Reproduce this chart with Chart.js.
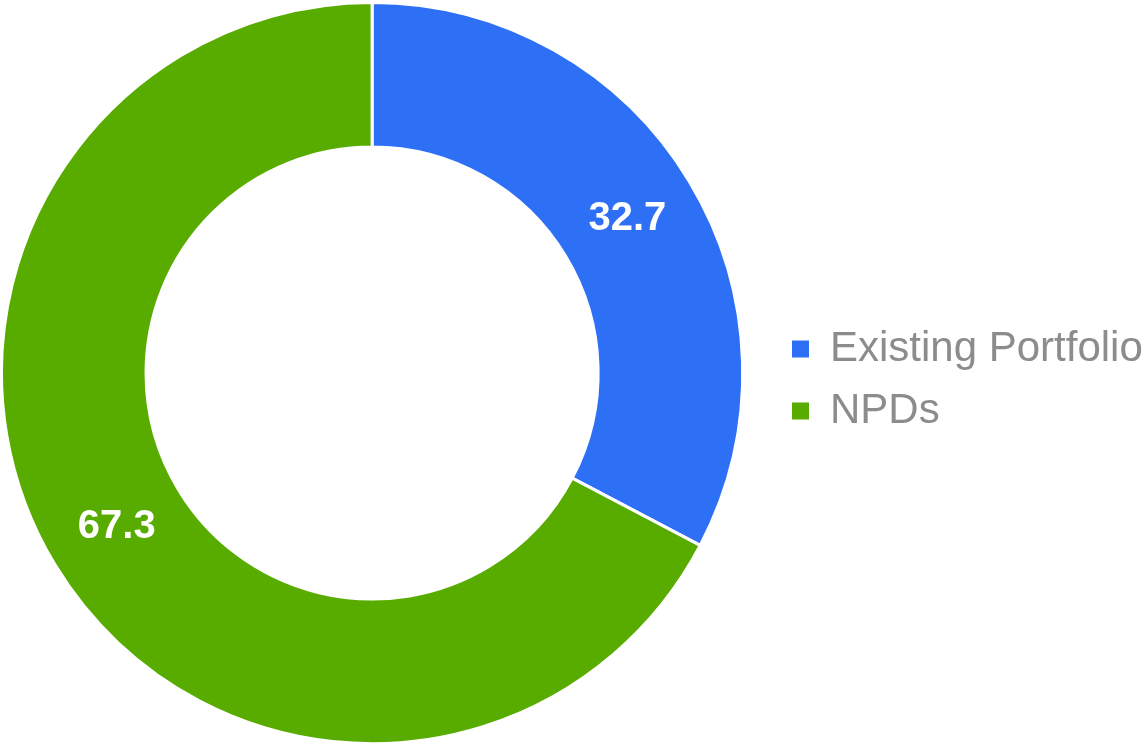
<!DOCTYPE html>
<html>
<head>
<meta charset="utf-8">
<script src="https://cdn.jsdelivr.net/npm/chart.js@4"></script>
<style>
  html, body { margin: 0; padding: 0; background: #fff; }
  #wrap { width: 1145px; height: 746px; position: relative; }
</style>
</head>
<body>
<div id="wrap"><canvas id="chart1"></canvas></div>
<script>
const categorias = ['Existing Portfolio', 'NPDs'];
const valores = [32.7, 67.3];
const cores = ['#2e70f5', '#58ac00'];

// rotulos brancos no meio de cada fatia
const rotulos = {
    id: 'rotulos',
    afterDatasetsDraw(chart) {
        const ctx = chart.ctx;
        const meta = chart.getDatasetMeta(0);
        ctx.save();
        ctx.fillStyle = '#ffffff';
        ctx.font = 'bold 40px "Liberation Sans", Arial, sans-serif';
        ctx.textAlign = 'center';
        ctx.textBaseline = 'middle';
        meta.data.forEach((arc, i) => {
            const p = arc.tooltipPosition();
            ctx.fillText(valores[i].toFixed(1), p.x, p.y);
        });
        ctx.restore();
    }
};

// empurra a legenda para a direita sem mexer no grafico
const moverLegenda = {
    id: 'moverLegenda',
    afterLayout(chart) {
        const lg = chart.legend;
        const dx = 772 - lg.left;
        lg.left += dx; lg.right += dx;
        lg.top += 7; lg.bottom += 7;
    }
};

new Chart(document.getElementById('chart1'), {
    type: 'doughnut',
    data: {
        labels: categorias,
        datasets: [{
            data: valores,
            backgroundColor: cores,
            borderColor: '#ffffff',
            borderWidth: 3
        }]
    },
    options: {
        responsive: true,
        maintainAspectRatio: false,
        animation: false,
        cutout: '61%',
        layout: { padding: { right: 20 } },
        plugins: {
            tooltip: { enabled: false },
            legend: {
                position: 'right',
                labels: {
                    boxWidth: 17,
                    boxHeight: 17,
                    padding: 20,
                    color: '#8c8c8c',
                    font: { family: '"Liberation Sans", Arial, sans-serif', size: 42 },
                    generateLabels(chart) {
                        const itens = Chart.overrides.doughnut.plugins.legend.labels.generateLabels(chart);
                        itens.forEach(it => { it.lineWidth = 0; });
                        return itens;
                    }
                }
            }
        }
    },
    plugins: [rotulos, moverLegenda]
});
</script>
</body>
</html>
